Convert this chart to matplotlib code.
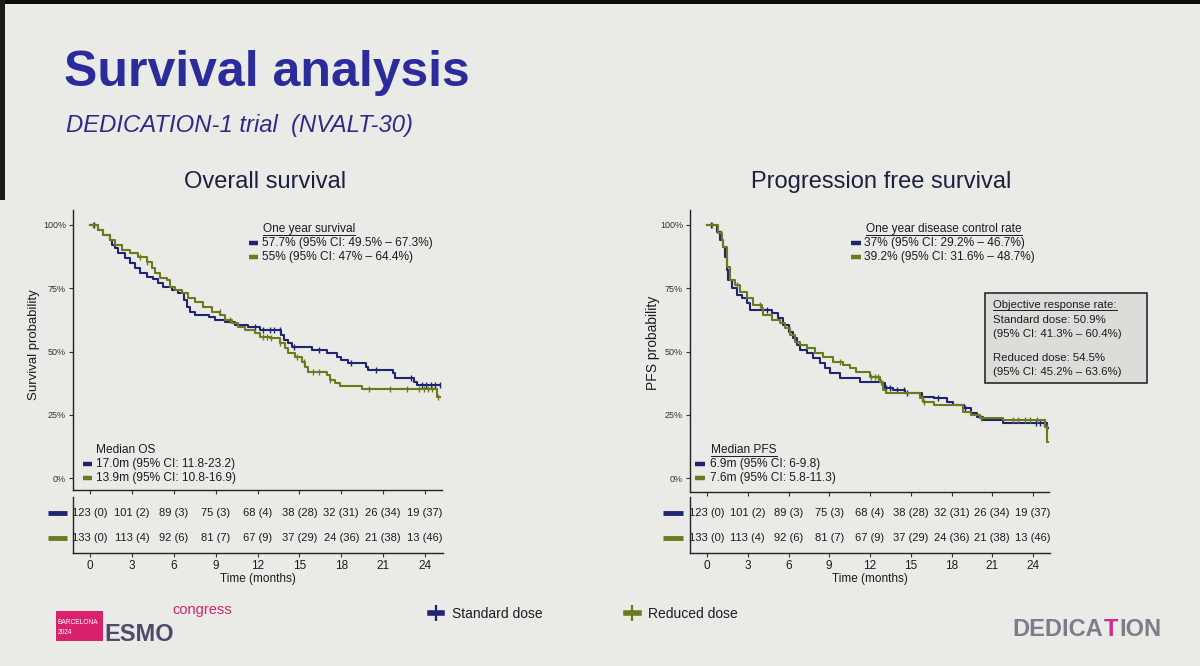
import numpy as np
import matplotlib
matplotlib.use("Agg")
import matplotlib.pyplot as plt
from matplotlib.lines import Line2D
from matplotlib.patches import Rectangle
from matplotlib import font_manager

W, H = 1200, 666

# ── data ──────────────────────────────────────────────────────────────────────
# overall survival, standard dose
os_std_t = [0, 0.6, 0.95, 1.43, 1.6, 1.79, 2.03, 2.5, 2.87, 3.2, 3.58, 4.06, 4.5, 4.9,
            5.25, 5.85, 6.33, 6.7, 6.92, 7.16, 7.5, 8.5, 8.96, 9.67, 10.4, 11.3, 12.2,
            13.7, 13.9, 14.2, 14.45, 15.9, 16.96, 17.67, 18.0, 18.5, 19.8, 19.94, 21.7,
            21.85, 23.2, 23.4, 25.1]
os_std_s = [100, 98.0, 96.0, 94.1, 92.1, 90.8, 88.8, 86.8, 84.9, 82.9, 80.9, 79.6, 78.5, 77.0,
            75.6, 74.3, 73.0, 70.4, 67.7, 65.7, 64.4, 63.8, 62.5, 61.8, 60.5, 59.8, 58.5,
            56.5, 54.5, 53.2, 51.9, 50.6, 49.3, 47.9, 46.6, 45.3, 44.0, 42.7, 41.4,
            39.4, 38.1, 36.8, 36.8]
os_std_cens = [0.3, 11.8, 12.4, 12.9, 13.2, 13.6, 14.6, 16.4, 18.7, 20.5, 23.0, 23.8,
               24.1, 24.4, 24.7, 25.1]

# overall survival, reduced dose
os_red_t = [0, 0.6, 0.95, 1.43, 1.79, 2.27, 2.87, 3.46, 4.06, 4.42, 4.66, 5.0, 5.5, 5.73,
            6.09, 6.57, 7.04, 7.52, 8.12, 8.72, 9.31, 9.67, 10.15, 10.6, 11.1, 11.8, 12.2,
            12.9, 13.6, 13.97, 14.2, 14.7, 15.2, 15.4, 15.6, 16.96, 17.2, 17.55, 17.9,
            19.5, 24.85, 25.07]
os_red_s = [100, 98.0, 96.0, 94.1, 92.1, 90.1, 88.8, 87.5, 85.5, 82.9, 80.9, 78.9, 78.3, 75.6,
            74.3, 73.0, 71.0, 69.7, 67.7, 65.7, 64.4, 62.5, 61.1, 59.8, 58.5, 57.2, 55.9,
            55.2, 53.2, 51.3, 49.3, 47.9, 46.0, 44.0, 42.0, 40.7, 38.7, 37.4, 36.4,
            35.1, 32.1, 32.1]
os_red_cens = [0.2, 3.6, 4.1, 9.3, 10.0, 12.4, 12.7, 13.0, 13.6, 14.8, 15.3, 16.0, 16.4,
               17.2, 20.0, 21.5, 22.7, 23.6, 23.9, 24.2, 24.5, 24.9]

# progression free survival, standard dose
pfs_std_t = [0, 0.71, 0.96, 1.2, 1.33, 1.45, 1.57, 1.82, 2.19, 2.55, 2.92, 3.17, 4.76, 5.25,
             5.6, 6.0, 6.35, 6.6, 6.85, 7.34, 7.83, 8.3, 8.7, 9.07, 9.8, 11.27, 12.86, 13.1,
             13.7, 14.6, 15.8, 16.7, 17.65, 18.1, 18.9, 19.4, 19.86, 20.35, 21.8, 25.0, 25.1]
pfs_std_s = [100, 97.4, 94.1, 91.4, 87.5, 82.2, 78.3, 75.0, 72.3, 71.0, 69.0, 66.4, 65.1, 63.1,
             60.5, 57.8, 55.2, 52.6, 50.6, 49.3, 47.3, 45.3, 43.4, 41.4, 39.4, 38.1, 37.4, 35.4,
             34.8, 33.5, 32.1, 31.5, 30.2, 28.9, 27.5, 25.6, 24.2, 22.9, 21.6, 19.6, 19.6]
pfs_std_cens = [0.3, 4.4, 13.2, 13.5, 14.0, 14.5, 14.7, 17.0, 19.0, 24.2, 24.5, 24.8]

# progression free survival, reduced dose
pfs_red_t = [0, 0.83, 1.08, 1.2, 1.45, 1.69, 2.06, 2.43, 2.92, 3.41, 4.03, 4.15, 4.76, 5.38,
             5.74, 6.1, 6.48, 6.85, 7.34, 7.95, 8.56, 9.3, 10.0, 10.5, 11.0, 12.0, 12.74,
             12.98, 13.2, 15.7, 15.9, 16.7, 18.87, 19.4, 20.1, 21.8, 24.9, 25.05, 25.1]
pfs_red_s = [100, 96.7, 94.1, 91.4, 83.5, 78.3, 76.3, 73.6, 71.0, 68.4, 67.1, 64.4, 62.5, 61.1,
             59.2, 56.5, 53.9, 52.6, 51.3, 49.3, 47.9, 46.0, 44.7, 43.4, 42.0, 40.0, 38.1,
             34.8, 33.5, 31.5, 30.2, 28.9, 26.2, 24.9, 23.6, 22.9, 20.3, 14.3, 14.3]
pfs_red_cens = [0.4, 1.0, 2.2, 3.9, 9.8, 12.1, 12.4, 12.6, 12.8, 15.8, 16.0, 20.2, 22.5,
                22.9, 23.4, 23.8, 24.3, 25.0]

# numbers at risk (same table under both panels on the slide)
risk_times = [0, 3, 6, 9, 12, 15, 18, 21, 24]
risk_std = ["123 (0)", "101 (2)", "89 (3)", "75 (3)", "68 (4)", "38 (28)", "32 (31)",
            "26 (34)", "19 (37)"]
risk_red = ["133 (0)", "113 (4)", "92 (6)", "81 (7)", "67 (9)", "37 (29)", "24 (36)",
            "21 (38)", "13 (46)"]

y_ticks = [0, 25, 50, 75, 100]

# ── style ─────────────────────────────────────────────────────────────────────
BG = "#eaeae6"
BLUE = "#1e2672"
GREEN = "#6b7a1c"
TXT = "#1c1c1c"
TITLE_BLUE = "#2c2b9b"
PINK = "#d9226b"

names = {f.name for f in font_manager.fontManager.ttflist}
NARROW = "Liberation Sans Narrow" in names
plt.rcParams["font.family"] = ["Liberation Sans", "DejaVu Sans"]
NARROW_FAM = ["Liberation Sans Narrow", "Liberation Sans", "DejaVu Sans"]

fig = plt.figure(figsize=(W / 100, H / 100), dpi=100)
fig.patch.set_facecolor(BG)


def rect(l, t, r, b):
    return [l / W, 1 - b / H, (r - l) / W, (b - t) / H]


def lims(lo_px, hi_px, p0, p1, v0, v1):
    scale = (p1 - p0) / (v1 - v0)
    return v0 + (lo_px - p0) / scale, v0 + (hi_px - p0) / scale


def ftext(x, y, s, **kw):
    return fig.text(x / W, 1 - y / H, s, **kw)


def fdash(x0, x1, y, color, lw=3.2):
    fig.add_artist(Line2D([x0 / W, x1 / W], [1 - y / H, 1 - y / H], color=color,
                          lw=lw, solid_capstyle="butt", transform=fig.transFigure))


underlined = []


def km_panel(box, x_px, curves):
    l, t, r, b = box
    ax = fig.add_axes(rect(*box))
    ax.patch.set_alpha(0)
    ax.set_xlim(lims(l, r, x_px[0], x_px[1], 0, 24))
    ax.set_ylim(lims(b, t, 478, 225, 0, 100))
    for tt, ss, cens, color in curves:
        tt, ss = np.asarray(tt), np.asarray(ss)
        ax.plot(tt, ss, drawstyle="steps-post", color=color, lw=1.5)
        idx = np.searchsorted(tt, cens, side="right") - 1
        ax.plot(cens, ss[idx], ls="none", marker="|", ms=5, mew=1.0, color=color)
    for side in ("top", "right"):
        ax.spines[side].set_visible(False)
    for side in ("left", "bottom"):
        ax.spines[side].set_color("#222")
        ax.spines[side].set_linewidth(1.0)
    ax.set_yticks(y_ticks)
    ax.set_yticklabels([f"{v}%" for v in y_ticks], fontsize=6.5, color="#333")
    ax.set_xticks(risk_times)
    ax.set_xticklabels([])
    ax.tick_params(length=3, width=0.8, color="#333", pad=2)
    return ax


def risk_panel(box, x_px, dash_x):
    l, t, r, b = box
    ax = fig.add_axes(rect(*box))
    ax.patch.set_alpha(0)
    ax.set_xlim(lims(l, r, x_px[0], x_px[1], 0, 24))
    ax.set_ylim(lims(b, t, 538, 513, 0, 1))
    for tm, a, c in zip(risk_times, risk_std, risk_red):
        ax.text(tm, 1, a, ha="center", va="center", fontsize=8, color=TXT)
        ax.text(tm, 0, c, ha="center", va="center", fontsize=8, color=TXT)
    for side in ("top", "right"):
        ax.spines[side].set_visible(False)
    for side in ("left", "bottom"):
        ax.spines[side].set_color("#222")
        ax.spines[side].set_linewidth(1.0)
    ax.set_yticks([])
    ax.set_xticks(risk_times)
    ax.set_xticklabels([str(v) for v in risk_times], fontsize=8.5, color=TXT)
    ax.tick_params(axis="x", length=3, width=0.8, color="#333", pad=2)
    ax.set_xlabel("Time (months)", fontsize=8.5, color=TXT, labelpad=1)
    fdash(dash_x[0], dash_x[1], 513, BLUE, lw=3.5)
    fdash(dash_x[0], dash_x[1], 538, GREEN, lw=3.5)
    return ax


# ── panels ────────────────────────────────────────────────────────────────────
km_panel((73, 210, 442, 490), (90, 425),
         [(os_std_t, os_std_s, os_std_cens, BLUE), (os_red_t, os_red_s, os_red_cens, GREEN)])
km_panel((690, 210, 1049, 492), (707, 1033),
         [(pfs_std_t, pfs_std_s, pfs_std_cens, BLUE), (pfs_red_t, pfs_red_s, pfs_red_cens, GREEN)])
risk_panel((73, 497, 443, 553), (90, 425), (48, 67))
risk_panel((690, 497, 1050, 553), (707, 1033), (663, 683))

ftext(34, 345, "Survival probability", rotation=90, ha="center", va="center",
      fontsize=9.5, color=TXT)
ftext(653, 343, "PFS probability", rotation=90, ha="center", va="center",
      fontsize=10, color=TXT)

# ── in-panel annotations ──────────────────────────────────────────────────────
ANN = 8.6
underlined.append(ftext(263, 229, "One year survival", va="center", fontsize=ANN, color=TXT))
fdash(249, 258, 243, BLUE)
ftext(262, 243, "57.7% (95% CI: 49.5% \u2013 67.3%)", va="center", fontsize=ANN, color=TXT)
fdash(249, 258, 257, GREEN)
ftext(262, 257, "55% (95% CI: 47% \u2013 64.4%)", va="center", fontsize=ANN, color=TXT)

ftext(96, 450, "Median OS", va="center", fontsize=ANN, color=TXT)
fdash(83, 92, 464, BLUE)
ftext(96, 464, "17.0m (95% CI: 11.8-23.2)", va="center", fontsize=ANN, color=TXT)
fdash(83, 92, 478, GREEN)
ftext(96, 478, "13.9m (95% CI: 10.8-16.9)", va="center", fontsize=ANN, color=TXT)

underlined.append(ftext(866, 229, "One year disease control rate", va="center",
                        fontsize=ANN, color=TXT))
fdash(851, 861, 243, BLUE)
ftext(864, 243, "37% (95% CI: 29.2% \u2013 46.7%)", va="center", fontsize=ANN, color=TXT)
fdash(851, 861, 257, GREEN)
ftext(864, 257, "39.2% (95% CI: 31.6% \u2013 48.7%)", va="center", fontsize=ANN, color=TXT)

underlined.append(ftext(711, 450, "Median PFS", va="center", fontsize=ANN, color=TXT))
fdash(695, 705, 464, BLUE)
ftext(710, 464, "6.9m (95% CI: 6-9.8)", va="center", fontsize=ANN, color=TXT)
fdash(695, 705, 478, GREEN)
ftext(710, 478, "7.6m (95% CI: 5.8-11.3)", va="center", fontsize=ANN, color=TXT)

# objective response rate box
fig.add_artist(Rectangle((985 / W, 1 - 383 / H), 162 / W, 90 / H, transform=fig.transFigure,
                         facecolor="#dcdcd9", edgecolor="#2a2a2a", lw=1.2))
ORR = 8.2
underlined.append(ftext(993, 305, "Objective response rate:", va="center", fontsize=ORR, color=TXT))
ftext(993, 320, "Standard dose: 50.9%", va="center", fontsize=ORR, color=TXT)
ftext(993, 334, "(95% CI: 41.3% \u2013 60.4%)", va="center", fontsize=ORR, color=TXT)
ftext(993, 358, "Reduced dose: 54.5%", va="center", fontsize=ORR, color=TXT)
ftext(993, 372, "(95% CI: 45.2% \u2013 63.6%)", va="center", fontsize=ORR, color=TXT)

# ── titles ────────────────────────────────────────────────────────────────────
ftext(64, 86, "Survival analysis", fontsize=36, fontweight="bold", color=TITLE_BLUE,
      va="baseline")
ftext(66, 132, "DEDICATION-1 trial  (NVALT-30)", fontsize=20.5 if NARROW else 17.2,
      style="italic", color="#2c2c86", va="baseline", family=NARROW_FAM)
ftext(265, 188, "Overall survival", fontsize=17, color="#1d2140", ha="center", va="baseline")
ftext(881, 188, "Progression free survival", fontsize=17, color="#1d2140", ha="center",
      va="baseline")

# ── bottom legend ─────────────────────────────────────────────────────────────
handles = [
    Line2D([0], [0], color=BLUE, lw=4, marker="|", ms=11, mew=1.6, label="Standard dose"),
    Line2D([0], [0], color=GREEN, lw=4, marker="|", ms=11, mew=1.6, label="Reduced dose"),
]
fig.legend(handles=handles, loc="center", bbox_to_anchor=(584 / W, 1 - 614 / H), ncol=2,
           frameon=False, fontsize=10, handlelength=0.9, handletextpad=0.7,
           columnspacing=6.0, labelcolor=TXT)

# ── logos (as text) ───────────────────────────────────────────────────────────
fig.add_artist(Rectangle((56 / W, 1 - 641 / H), 47 / W, 30 / H, transform=fig.transFigure,
                         facecolor=PINK, edgecolor="none"))
ftext(58, 622, "BARCELONA", fontsize=4.8, color="white", va="center", family=NARROW_FAM)
ftext(58, 633, "2024", fontsize=4.8, color="white", va="center", family=NARROW_FAM)
ftext(104, 641, "ESMO", fontsize=17, fontweight="bold", color="#4d4b68", va="baseline",
      family=NARROW_FAM)
ftext(172, 614, "congress", fontsize=10.5, color=PINK, va="baseline", family=NARROW_FAM)

logo_parts = [("DEDICA", "#7d7c8a"), ("T", "#d42a8c"), ("ION", "#7d7c8a")]
logo_texts = []
for part, col in logo_parts:
    logo_texts.append(ftext(1012, 636, part, fontsize=17, fontweight="bold", color=col,
                            va="baseline", family=NARROW_FAM))

# photo frame edges
fig.add_artist(Rectangle((0, 1 - 4 / H), 1, 4 / H, transform=fig.transFigure,
                         facecolor="#0c0c0c", edgecolor="none"))
fig.add_artist(Rectangle((0, 1 - 200 / H), 5 / W, 200 / H, transform=fig.transFigure,
                         facecolor="#1a1a1a", edgecolor="none"))

# ── underlines and logo spacing need the rendered extents ────────────────────
fig.canvas.draw()
renderer = fig.canvas.get_renderer()
for txt in underlined:
    bb = txt.get_window_extent(renderer)
    y = bb.y0 + 0.5
    fig.add_artist(Line2D([bb.x0 / W, bb.x1 / W], [y / H, y / H], color=TXT, lw=0.7,
                          transform=fig.transFigure))

x = 1012
for txt in logo_texts:
    txt.set_x(x / W)
    x += txt.get_window_extent(renderer).width + 1

fig.savefig("out.png", dpi=100, facecolor=BG)
